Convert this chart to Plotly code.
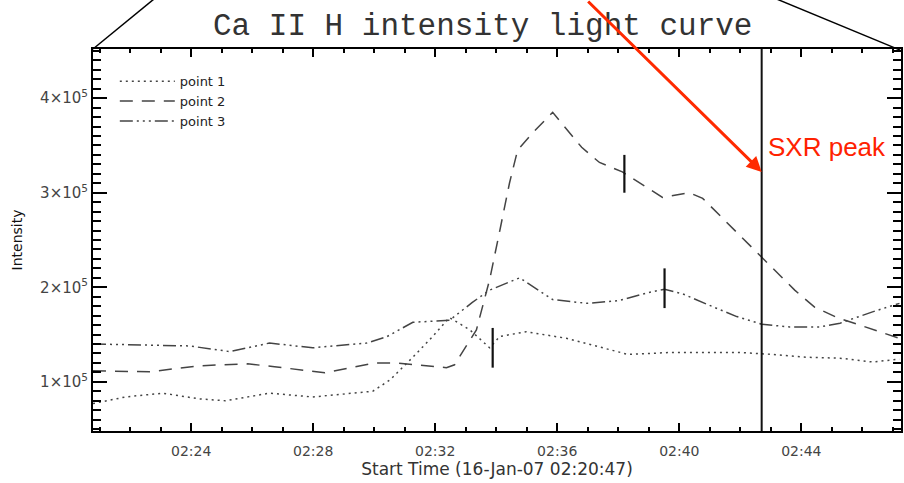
"""Ca II H intensity light curve - three points, SXR peak marker."""

import plotly.graph_objects as go

day = "2007-01-16 "

# point 1 (dotted)
p1_times = ["02:20:47", "02:21:51", "02:23:04", "02:24:16", "02:25:07", "02:26:34",
            "02:27:59", "02:29:05", "02:29:57", "02:30:31", "02:31:16", "02:31:55",
            "02:32:28", "02:33:08", "02:33:47", "02:34:07", "02:34:59", "02:36:18",
            "02:37:29", "02:38:19", "02:39:41", "02:41:59", "02:43:04", "02:44:11",
            "02:45:16", "02:46:20", "02:47:13"]
p1_vals = [0.77, 0.84, 0.88, 0.82, 0.80, 0.88, 0.84, 0.87, 0.90, 1.02, 1.26, 1.48,
           1.68, 1.55, 1.36, 1.48, 1.53, 1.46, 1.36, 1.29, 1.31, 1.31, 1.29, 1.26,
           1.25, 1.21, 1.24]

# point 2 (dashed)
p2_times = ["02:20:47", "02:22:38", "02:24:16", "02:25:51", "02:26:44", "02:28:23",
            "02:30:01", "02:30:44", "02:32:22", "02:32:38", "02:33:21", "02:33:47",
            "02:34:07", "02:34:26", "02:34:42", "02:35:11", "02:35:51", "02:36:48",
            "02:37:23", "02:38:08", "02:39:27", "02:40:20", "02:40:46", "02:42:05",
            "02:42:42", "02:43:47", "02:44:26", "02:45:10", "02:45:55", "02:47:13"]
p2_vals = [1.116, 1.106, 1.17, 1.19, 1.16, 1.095, 1.20, 1.20, 1.15, 1.18, 1.55, 2.08,
           2.60, 3.10, 3.45, 3.63, 3.85, 3.48, 3.32, 3.22, 2.95, 3.00, 2.94, 2.52,
           2.32, 1.97, 1.79, 1.68, 1.60, 1.46]

# point 3 (dash-dot-dot-dot)
p3_times = ["02:20:47", "02:22:18", "02:23:56", "02:25:16", "02:26:34", "02:27:59",
            "02:29:45", "02:30:24", "02:31:16", "02:32:28", "02:33:13", "02:33:47",
            "02:34:46", "02:35:51", "02:36:58", "02:38:02", "02:38:56", "02:39:31",
            "02:40:07", "02:40:59", "02:41:53", "02:42:42", "02:43:37", "02:44:36",
            "02:45:16", "02:46:20", "02:47:13"]
p3_vals = [1.40, 1.39, 1.38, 1.32, 1.41, 1.36, 1.41, 1.475, 1.63, 1.65, 1.84, 1.97,
           2.10, 1.87, 1.83, 1.86, 1.94, 1.98, 1.93, 1.81, 1.69, 1.61, 1.58, 1.58,
           1.62, 1.74, 1.83]

# error bars
err_times = ["02:33:53", "02:38:12", "02:39:31"]
err_vals = [1.36, 3.20, 1.99]
err_half = [0.21, 0.20, 0.21]

sxr_peak_time = "02:42:42"
arrow_tip_val = 3.22
x_start, x_end = "02:20:47", "02:47:16"
y_ticks = [1, 2, 3, 4]
scale = 1e5

line_col = "#444444"


def t(lst):
    return [day + s for s in lst]


def v(lst):
    return [a * scale for a in lst]


fig = go.Figure()
fig.add_trace(go.Scatter(x=t(p1_times), y=v(p1_vals), mode="lines", name="point 1",
                         line=dict(color=line_col, width=1.5, dash="2px,4px")))
fig.add_trace(go.Scatter(x=t(p2_times), y=v(p2_vals), mode="lines", name="point 2",
                         line=dict(color=line_col, width=1.5, dash="13px,9px")))
fig.add_trace(go.Scatter(x=t(p3_times), y=v(p3_vals), mode="lines", name="point 3",
                         line=dict(color=line_col, width=1.5,
                                   dash="13px,4px,2px,4px,2px,4px,2px,4px")))
fig.add_trace(go.Scatter(x=t(err_times), y=v(err_vals), mode="markers",
                         marker=dict(size=1, color="rgba(0,0,0,0)"), showlegend=False,
                         error_y=dict(type="data", array=v(err_half), width=0,
                                      thickness=2.2, color="#111111")))

fig.add_vline(x=day + sxr_peak_time, line=dict(color="#111111", width=2))

fig.add_annotation(x=day + sxr_peak_time, y=arrow_tip_val * scale, text="",
                   showarrow=True, ax=-175, ay=-178, arrowcolor="#ff2a00",
                   arrowwidth=3, arrowhead=2, arrowsize=1, standoff=0)
fig.add_annotation(x=day + sxr_peak_time, y=3.48 * scale, text="SXR peak",
                   showarrow=False, xanchor="left", yanchor="middle", xshift=4,
                   font=dict(family="Liberation Sans", size=26, color="#ff2200"))

# corner lines (zoom indicators)
fig.add_shape(type="line", xref="paper", yref="paper", x0=0, y0=1, x1=0.075, y1=1.13,
              line=dict(color="black", width=1.5))
fig.add_shape(type="line", xref="paper", yref="paper", x0=0.999, y0=0.997, x1=0.847, y1=1.13,
              line=dict(color="black", width=1.5))

axis_common = dict(showline=True, linecolor="black", linewidth=2, mirror="allticks",
                   ticks="inside", tickcolor="black", showgrid=False, zeroline=False,
                   automargin=False)

fig.update_xaxes(range=[day + x_start, day + x_end], type="date",
                 tickformat="%H:%M", tick0=day + "02:24:00", dtick=240000,
                 ticklen=8, tickwidth=1.5, ticklabelstandoff=6,
                 minor=dict(dtick=60000, tick0=day + "02:24:00", ticks="inside",
                            ticklen=4, tickcolor="black", tickwidth=1.5),
                 tickfont=dict(family="DejaVu Sans", size=14, color="#444444"),
                 title=dict(text="Start Time (16-Jan-07 02:20:47)", standoff=3,
                            font=dict(family="DejaVu Sans", size=17, color="#333333")),
                 **axis_common)
fig.update_yaxes(range=[0.48 * scale, 4.52 * scale],
                 tickvals=v(y_ticks), ticktext=[f"{k}×10<sup>5</sup>" for k in y_ticks],
                 ticklen=14, tickwidth=1.5,
                 minor=dict(tickvals=[k * 1e4 for k in range(5, 46)], ticks="inside",
                            ticklen=8, tickcolor="black", tickwidth=1.5),
                 tickfont=dict(family="DejaVu Sans", size=15, color="#444444"),
                 title=dict(text="Intensity", standoff=14,
                            font=dict(family="DejaVu Sans", size=14, color="#111111")),
                 **axis_common)

fig.update_layout(
    width=904, height=483,
    margin=dict(l=93, r=3, t=49, b=52),
    paper_bgcolor="white", plot_bgcolor="white",
    title=dict(text="Ca II H intensity light curve", x=0.534, xanchor="center",
               y=0.95, yanchor="middle",
               font=dict(family="Liberation Mono", size=31, color="#333333")),
    legend=dict(x=0.027, y=0.955, xanchor="left", yanchor="top",
                bgcolor="rgba(0,0,0,0)", itemwidth=55,
                font=dict(family="DejaVu Sans", size=13, color="#222222")),
)

fig.write_html("out.html", config={"displayModeBar": False},
               post_script="document.body.style.margin='0px';"
                           "document.body.style.overflow='hidden';"
                           "Plotly.Plots.resize(document.getElementById('{plot_id}'));")
